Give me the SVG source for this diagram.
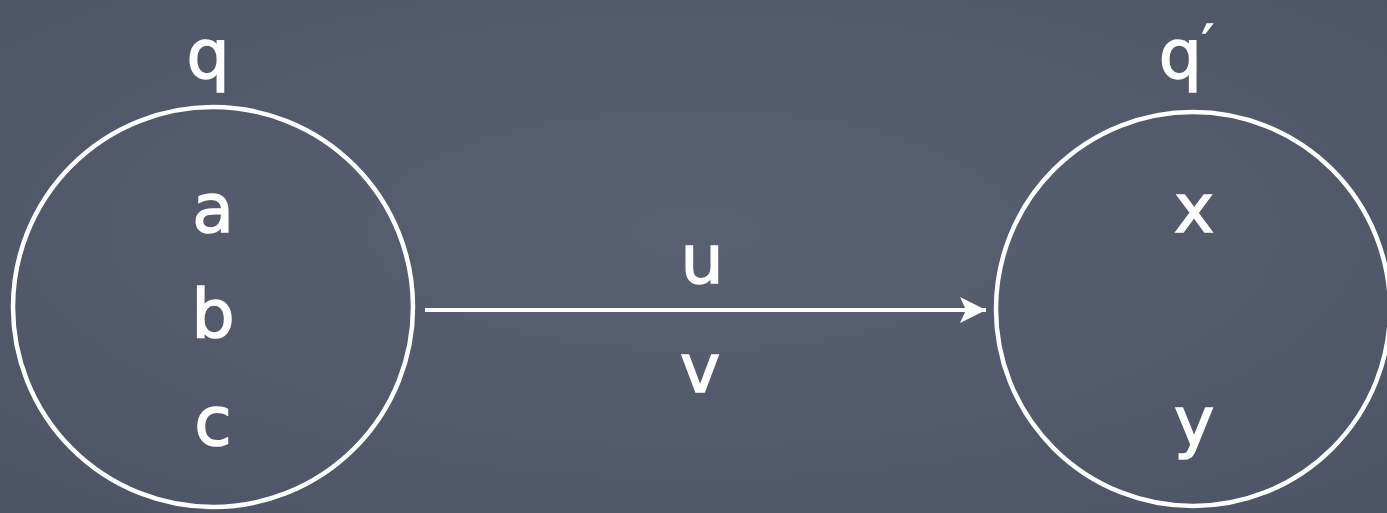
<svg xmlns="http://www.w3.org/2000/svg" width="1387" height="513" viewBox="0 0 1387 513">
<defs>
<radialGradient id="bg" cx="0.5" cy="0.45" r="0.75">
<stop offset="0" stop-color="#586071"/>
<stop offset="1" stop-color="#4c5465"/>
</radialGradient>
<marker id="arr" markerWidth="30" markerHeight="30" refX="26" refY="13" orient="auto" markerUnits="userSpaceOnUse">
<path d="M0,0 L26,13 L0,26 L6,13 Z" fill="#ffffff"/>
</marker>
<style>
.node{fill:none;stroke:#ffffff;stroke-width:4.5}
.lbl{fill:#ffffff;stroke:#ffffff;stroke-width:1.5;font-family:"DejaVu Sans","Liberation Sans",sans-serif;font-size:68px;text-anchor:middle}
.edge{stroke:#ffffff;stroke-width:4;fill:none}
</style>
</defs>
<rect x="0" y="0" width="1387" height="513" fill="url(#bg)"/>
<g id="node-q">
<circle class="node" cx="213" cy="307" r="200"/>
<text class="lbl" x="208" y="78">q</text>
<text class="lbl" x="213" y="232">a</text>
<text class="lbl" x="213" y="338">b</text>
<text class="lbl" x="213" y="445">c</text>
</g>
<g id="node-q2">
<circle class="node" cx="1193" cy="309" r="197"/>
<text class="lbl" x="1186" y="78">q<tspan dx="0" dy="-18" style="font-size:50px">′</tspan></text>
<text class="lbl" x="1194" y="232">x</text>
<text class="lbl" x="1194" y="445">y</text>
</g>
<g id="connectors">
<line class="edge" x1="425" y1="310" x2="986" y2="310" marker-end="url(#arr)"/>
<text class="lbl" x="702" y="283">u</text>
<text class="lbl" x="700" y="392">v</text>
</g>
</svg>
